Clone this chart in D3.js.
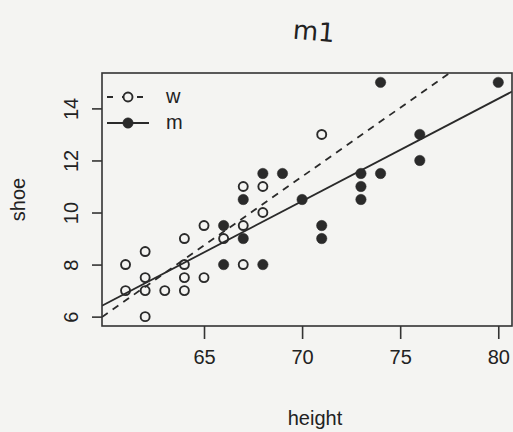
<!DOCTYPE html>
<html>
<head>
<meta charset="utf-8">
<script src="https://cdn.jsdelivr.net/npm/d3@7/dist/d3.min.js"></script>
<style>
  body { margin: 0; background: #f4f4f2; }
  svg { display: block; }
  text { font-family: "Liberation Sans", Arial, sans-serif; fill: #222; }
</style>
</head>
<body>
<div id="chart"></div>
<script>
// women (open circles) and men (filled circles): height, shoe size
const womenHeight = [61, 61, 62, 62, 62, 62, 63, 64, 64, 64, 64, 65, 65, 66, 67, 67, 67, 68, 68, 71];
const womenShoe   = [7, 8, 6, 7, 7.5, 8.5, 7, 7, 7.5, 8, 9, 7.5, 9.5, 9, 8, 9.5, 11, 10, 11, 13];
const menHeight = [66, 66, 67, 67, 68, 68, 69, 70, 71, 71, 73, 73, 73, 74, 74, 76, 76, 80];
const menShoe   = [8, 9.5, 9, 10.5, 8, 11.5, 11.5, 10.5, 9, 9.5, 10.5, 11, 11.5, 11.5, 15, 12, 13, 15];
const xTicks = [65, 70, 75, 80];
const yTicks = [6, 8, 10, 12, 14];
const legendLabels = ["w", "m"];

const width = 513, height = 432;
const box = { left: 102, right: 512, top: 73, bottom: 326 };
const ink = "#2a2a2a";

const svg = d3.select("#chart").append("svg")
  .attr("width", width)
  .attr("height", height);

const x = d3.scaleLinear().domain([59.8, 80.7]).range([box.left, box.right]);
const y = d3.scaleLinear().domain([5.64, 15.36]).range([box.bottom, box.top]);

// least squares fit
function fit(xs, ys) {
  const mx = d3.mean(xs), my = d3.mean(ys);
  const sxy = d3.sum(xs, (v, i) => (v - mx) * (ys[i] - my));
  const sxx = d3.sum(xs, v => (v - mx) * (v - mx));
  const b = sxy / sxx;
  return { a: my - b * mx, b: b };
}

svg.append("clipPath").attr("id", "clip")
  .append("rect")
  .attr("x", box.left).attr("y", box.top)
  .attr("width", box.right - box.left).attr("height", box.bottom - box.top);

const plot = svg.append("g").attr("clip-path", "url(#clip)");

const groups = [
  { hx: womenHeight, sy: womenShoe, dash: "7,6", fill: "none" },
  { hx: menHeight, sy: menShoe, dash: null, fill: ink }
];

groups.forEach(g => {
  const f = fit(g.hx, g.sy);
  const [x0, x1] = x.domain();
  plot.append("line")
    .attr("x1", x(x0)).attr("y1", y(f.a + f.b * x0))
    .attr("x2", x(x1)).attr("y2", y(f.a + f.b * x1))
    .attr("stroke", ink)
    .attr("stroke-width", 1.8)
    .attr("stroke-dasharray", g.dash);
});

groups.forEach(g => {
  plot.selectAll(null)
    .data(g.hx.map((h, i) => [h, g.sy[i]]))
    .enter().append("circle")
    .attr("cx", d => x(d[0]))
    .attr("cy", d => y(d[1]))
    .attr("r", g.fill === "none" ? 4.5 : 5.2)
    .attr("fill", g.fill)
    .attr("stroke", ink)
    .attr("stroke-width", g.fill === "none" ? 1.9 : 0.5);
});

// box
svg.append("rect")
  .attr("x", box.left).attr("y", box.top)
  .attr("width", box.right - box.left).attr("height", box.bottom - box.top)
  .attr("fill", "none")
  .attr("stroke", "#333")
  .attr("stroke-width", 1.6);

// x axis
const xAxis = svg.append("g")
  .attr("transform", `translate(0,${box.bottom})`)
  .call(d3.axisBottom(x).tickValues(xTicks).tickSize(13).tickPadding(11).tickSizeOuter(0));
xAxis.select(".domain").remove();
xAxis.selectAll("line").attr("stroke", "#333").attr("stroke-width", 1.6);
xAxis.selectAll("text").style("font-size", "20px").attr("fill", "#222");

// y axis
const yAxis = svg.append("g")
  .attr("transform", `translate(${box.left},0)`)
  .call(d3.axisLeft(y).tickValues(yTicks).tickSize(10).tickSizeOuter(0));
yAxis.select(".domain").remove();
yAxis.selectAll("line").attr("stroke", "#333").attr("stroke-width", 1.6);
yAxis.selectAll("text")
  .style("font-size", "20px")
  .attr("fill", "#222")
  .attr("x", null).attr("dy", null)
  .attr("text-anchor", "middle")
  .attr("transform", "translate(-24,0) rotate(-90)");

svg.append("text")
  .attr("x", (box.left + 512) / 2 + 8)
  .attr("y", 425)
  .attr("text-anchor", "middle")
  .style("font-size", "20px")
  .text("height");

svg.append("text")
  .attr("transform", `translate(25,${(box.top + box.bottom) / 2}) rotate(-90)`)
  .attr("text-anchor", "middle")
  .style("font-size", "20px")
  .text("shoe");

// legend
const legend = svg.append("g");
groups.forEach((g, i) => {
  const ly = 97 + i * 26;
  legend.append("line")
    .attr("x1", 107).attr("x2", 149)
    .attr("y1", ly).attr("y2", ly)
    .attr("stroke", ink).attr("stroke-width", 1.8)
    .attr("stroke-dasharray", g.dash ? "6,9" : null);
  legend.append("circle")
    .attr("cx", 128).attr("cy", ly)
    .attr("r", g.fill === "none" ? 4.5 : 5.2)
    .attr("fill", g.fill === "none" ? "#f4f4f2" : g.fill)
    .attr("stroke", ink)
    .attr("stroke-width", g.fill === "none" ? 1.9 : 0.5);
  legend.append("text")
    .attr("x", 166).attr("y", ly + 6)
    .style("font-size", "20px")
    .text(legendLabels[i]);
});

// handwritten note
svg.append("text")
  .attr("x", 293).attr("y", 40)
  .style("font-family", "'DejaVu Sans', sans-serif")
  .style("font-size", "26px")
  .attr("fill", "#555")
  .attr("transform", "rotate(5,310,32)")
  .text("m1");
</script>
</body>
</html>
